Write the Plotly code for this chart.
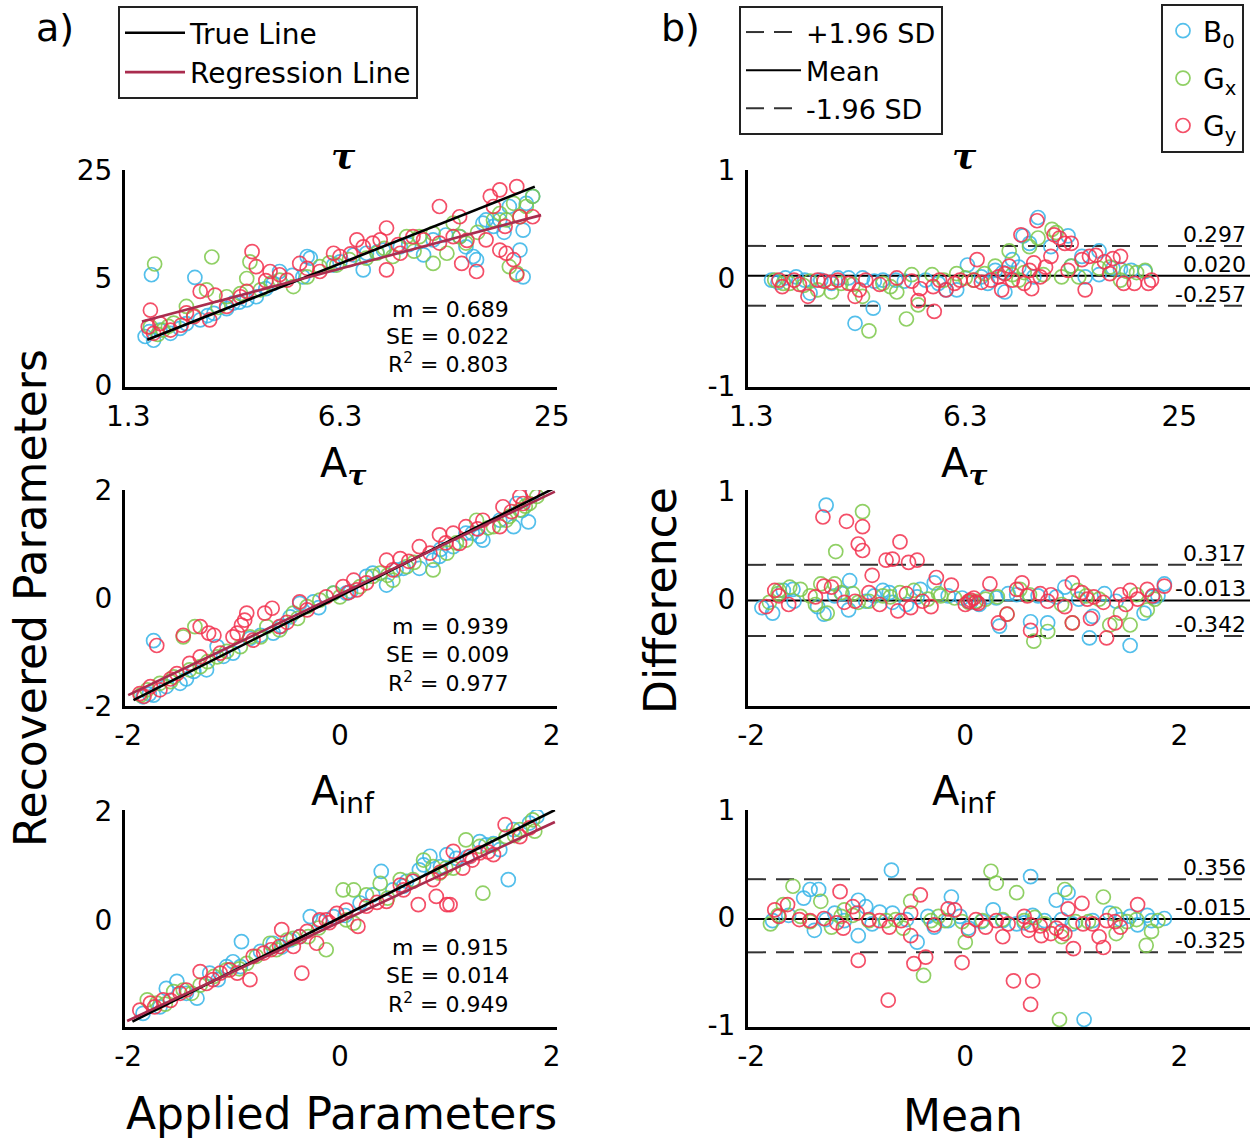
import plotly.graph_objects as go

FONT = "DejaVu Sans"
C_B0 = "#35b4e8"
C_GX = "#7cc84a"
C_GY = "#f2304e"
C_REG = "#a92c4e"

series_names = ["B<sub>0</sub>", "G<sub>x</sub>", "G<sub>y</sub>"]
series_colors = [C_B0, C_GX, C_GY]

# ---------------- tau : recovered vs applied (axis units, ticks relabelled) ----------------
tau_rec_b0_x = [-1.84, -1.76, -1.78, -1.37, -1.60, -1.51, -1.32, -1.19, -1.07, -1.01, -0.88, -0.79, -0.63, -0.57, -0.31, -0.28, -0.35, -0.06, 0.13, 0.22, 0.25, 0.41, 0.57, 0.79, 0.88, 1.13, 1.19, 1.26, 1.29, 1.35, 1.38, 1.45, 1.51, 1.60, 1.70, 1.73, 1.73, 1.76, 1.82, -1.80, -1.70, -1.45, -1.25, -0.95, -0.70, -0.45, 0.00, 0.35, 0.65, 1.00, 1.55]
tau_rec_b0_y = [-1.09, -1.16, 0.06, 0.01, -1.03, -0.94, -0.78, -0.66, -0.57, -0.47, -0.41, -0.35, -0.10, 0.12, 0.40, 0.37, 0.02, 0.24, 0.43, 0.15, 0.46, 0.52, 0.58, 0.43, 0.71, 0.77, 0.58, 0.40, 0.34, 1.02, 1.08, 0.96, 1.08, 1.33, 0.52, 0.02, 0.89, 1.39, 1.52, -1.00, -0.97, -0.85, -0.70, -0.45, -0.20, 0.05, 0.30, 0.48, 0.62, 0.80, 0.85]
tau_rec_gx_x = [-1.75, -1.21, -1.79, -1.67, -1.57, -1.45, -1.26, -1.07, -0.94, -0.88, -0.85, -0.75, -0.57, -0.44, -0.31, -0.19, -0.03, 0.09, 0.25, 0.35, 0.50, 0.63, 0.75, 0.88, 0.88, 1.01, 1.07, 1.13, 1.19, 1.45, 1.51, 1.57, 1.60, 1.64, 1.67, 1.70, 1.82, 1.76, -1.72, -1.62, -1.38, -1.15, -0.65, -0.10, 0.42, 0.70, 1.30]
tau_rec_gx_y = [0.26, 0.39, -0.91, -0.97, -0.84, -0.53, -0.22, -0.35, -0.29, -0.01, 0.30, -0.22, -0.04, -0.16, 0.02, 0.21, 0.24, 0.34, 0.37, 0.46, 0.40, 0.77, 0.77, 0.83, 0.27, 0.46, 1.02, 0.77, 0.65, 1.08, 1.20, 1.08, 0.21, 1.39, 0.09, 1.14, 1.52, 1.33, -1.05, -0.90, -0.70, -0.55, -0.10, 0.28, 0.55, 0.50, 0.85]
tau_rec_gy_x = [-1.79, -1.81, -1.76, -1.60, -1.38, -1.32, -1.23, -1.18, -1.07, -0.94, -0.83, -0.79, -0.66, -0.57, -0.50, -0.38, -0.31, -0.19, -0.06, 0.00, 0.16, 0.22, 0.31, 0.38, 0.44, 0.44, 0.57, 0.69, 0.79, 0.94, 0.94, 1.07, 1.13, 1.15, 1.29, 1.38, 1.42, 1.45, 1.51, 1.51, 1.57, 1.64, 1.67, 1.67, 1.70, 1.82, 1.56, -1.70, -1.50, -1.45, -0.88, -0.70, 0.10, 0.55, 1.20]
tau_rec_gy_y = [-0.60, -0.91, -1.03, -0.97, -0.72, -0.25, -0.78, -0.32, -0.53, -0.35, 0.49, 0.21, 0.12, 0.06, -0.04, 0.27, 0.18, 0.12, 0.46, 0.40, 0.71, 0.58, 0.65, 0.71, 0.15, 0.93, 0.46, 0.77, 0.71, 1.33, 0.65, 0.77, 1.14, 0.27, 0.12, 0.71, 1.52, 1.33, 1.64, 0.52, 0.46, 0.34, 1.70, 0.06, 1.14, 1.14, 0.96, -0.85, -0.88, -0.65, -0.25, -0.05, 0.45, 0.62, 0.70]

# ---------------- tau : Bland-Altman ----------------
tau_diff_b0_x = [-1.81, -1.68, -1.58, -1.45, -1.35, -1.19, -1.09, -0.96, -1.03, -0.86, -0.77, -0.57, -0.37, -0.18, -0.08, 0.02, 0.15, 0.21, 0.28, 0.37, 0.44, 0.54, 0.60, 0.64, 0.68, 0.80, 0.96, 1.09, 1.12, 1.25, 1.25, 1.55, 1.68, 1.38, 0.99, -1.75, -1.50, -1.25, -0.85, -0.65, -0.25, 0.35, 0.50, 1.45]
tau_diff_b0_y = [-0.02, 0.00, 0.01, -0.14, -0.02, 0.00, 0.00, 0.00, -0.42, -0.28, -0.02, -0.03, -0.02, -0.11, -0.11, 0.12, 0.01, -0.05, 0.07, -0.13, 0.17, 0.39, 0.32, 0.01, 0.56, 0.29, 0.39, 0.20, 0.01, 0.25, 0.03, 0.07, 0.06, 0.09, 0.11, -0.04, -0.02, -0.05, -0.03, -0.02, -0.05, 0.05, 0.10, 0.08]
tau_diff_gx_x = [-1.78, -1.64, -1.51, -1.38, -1.25, -1.16, -0.90, -0.96, -0.77, -0.64, -0.55, -0.50, -0.44, -0.31, -0.08, 0.08, 0.18, 0.28, 0.41, 0.44, 0.50, 0.60, 0.68, 0.73, 0.81, 0.85, 0.90, 0.99, 1.06, 1.25, 1.51, 1.68, 1.45, -1.70, -1.45, -1.05, -0.70, -0.20, 0.00, 0.55, 1.35, 1.60]
tau_diff_gx_y = [-0.02, -0.05, -0.07, -0.11, -0.13, -0.05, -0.49, -0.17, -0.05, -0.13, -0.38, 0.03, -0.25, 0.03, 0.04, -0.02, 0.04, 0.11, 0.25, 0.03, -0.02, 0.29, 0.37, 0.03, 0.45, 0.42, 0.01, 0.11, 0.01, 0.09, 0.06, 0.07, -0.02, -0.05, -0.03, -0.06, -0.08, -0.02, 0.00, 0.05, 0.10, 0.05]
tau_diff_gy_x = [-1.74, -1.71, -1.60, -1.47, -1.38, -1.32, -1.19, -1.09, -1.03, -0.99, -0.93, -0.64, -0.50, -0.44, -0.42, -0.29, -0.24, -0.18, -0.05, 0.08, 0.11, 0.24, 0.31, 0.34, 0.37, 0.41, 0.44, 0.52, 0.60, 0.62, 0.64, 0.67, 0.70, 0.80, 0.83, 0.88, 0.93, 0.96, 0.99, 1.12, 1.09, 1.16, 1.22, 1.35, 1.38, 1.45, 1.48, 1.58, 1.71, 1.74, -1.55, -1.25, -0.80, -0.30, -0.10, 0.15, 0.55, 0.75, 1.30]
tau_diff_gy_y = [-0.02, -0.08, -0.02, -0.17, -0.02, -0.03, -0.02, -0.05, -0.17, -0.11, -0.02, 0.00, -0.03, -0.21, -0.10, -0.31, -0.02, -0.11, -0.02, -0.02, 0.17, -0.02, 0.01, -0.11, 0.04, 0.11, -0.02, 0.40, 0.07, -0.10, 0.14, 0.53, 0.01, 0.20, 0.40, 0.37, 0.32, 0.07, 0.32, -0.11, 0.17, 0.20, 0.21, 0.04, 0.18, 0.20, -0.05, -0.05, -0.05, -0.02, -0.06, -0.04, -0.06, -0.08, -0.05, -0.04, -0.05, 0.10, 0.15]

# ---------------- A_tau : recovered vs applied ----------------
atau_rec_b0_x = [-1.86, -1.76, -1.76, -1.64, -1.51, -1.38, -1.26, -1.16, -1.01, -0.85, -0.75, -0.63, -0.47, -0.38, -0.25, -0.06, 0.06, 0.25, 0.31, 0.44, 0.53, 0.75, 0.88, 0.94, 1.07, 1.19, 1.32, 1.35, 1.51, 1.67, 1.78, 1.82, 1.64, -1.80, -1.45, -1.10, -0.55, -0.20, 0.10, 0.60, 0.95, 1.25, 1.72]
atau_rec_b0_y = [-1.83, -1.80, -0.79, -1.64, -1.58, -1.36, -1.33, -0.90, -1.02, -0.75, -0.69, -0.65, -0.35, -0.10, -0.07, 0.09, 0.09, 0.40, 0.46, 0.24, 0.52, 0.55, 0.70, 0.77, 0.95, 1.20, 1.14, 1.07, 1.44, 1.75, 1.41, 1.94, 1.32, -1.78, -1.50, -1.08, -0.52, -0.18, 0.12, 0.55, 0.90, 1.20, 1.62]
atau_rec_gx_x = [-1.82, -1.70, -1.57, -1.48, -1.37, -1.42, -1.32, -1.16, -1.07, -0.94, -0.85, -0.69, -0.57, -0.44, -0.31, -0.19, -0.06, 0.19, 0.31, 0.38, 0.50, 0.63, 0.88, 1.01, 1.19, 1.29, 1.45, 1.57, 1.70, 1.79, 1.86, 1.60, -1.88, -1.60, -1.25, -0.75, -0.40, 0.00, 0.45, 0.70, 1.10, 1.40, 1.75]
atau_rec_gx_y = [-1.70, -1.58, -1.46, -0.72, -0.53, -1.33, -1.27, -1.09, -0.99, -0.90, -0.72, -0.53, -0.59, -0.28, -0.16, -0.04, 0.09, 0.21, 0.40, 0.46, 0.33, 0.58, 0.52, 0.83, 1.07, 1.44, 1.32, 1.44, 1.63, 1.75, 1.88, 1.51, -1.80, -1.55, -1.18, -0.72, -0.38, 0.02, 0.42, 0.66, 1.02, 1.30, 1.70]
atau_rec_gy_x = [-1.89, -1.79, -1.73, -1.70, -1.54, -1.48, -1.42, -1.32, -1.32, -1.24, -1.19, -1.13, -1.01, -0.97, -0.93, -0.90, -0.88, -0.82, -0.71, -0.64, -0.57, -0.38, -0.31, -0.13, 0.03, 0.13, 0.16, 0.44, 0.50, 0.57, 0.75, 0.85, 0.94, 1.07, 1.13, 1.19, 1.35, 1.51, 1.54, 1.70, 1.82, 1.73, -1.85, -1.60, -0.50, 0.08, 0.25, 0.65, 1.00, 1.30, 1.62]
atau_rec_gy_y = [-1.77, -1.64, -0.88, -1.70, -1.40, -0.69, -1.21, -0.53, -1.09, -0.65, -0.69, -1.02, -0.72, -0.65, -0.50, -0.41, -0.28, -0.78, -0.28, -0.19, -0.53, -0.07, -0.22, 0.02, 0.21, 0.33, 0.15, 0.70, 0.52, 0.73, 0.95, 0.83, 1.17, 1.20, 1.01, 1.32, 1.44, 1.32, 1.69, 1.88, 1.98, 1.75, -1.82, -1.50, -0.45, 0.10, 0.28, 0.68, 1.02, 1.28, 1.60]

# ---------------- A_tau : Bland-Altman ----------------
atau_diff_b0_x = [-1.90, -1.80, -1.70, -1.61, -1.38, -1.32, -1.22, -1.08, -1.09, -0.93, -0.77, -0.68, -0.55, -0.42, -0.29, -0.16, -0.03, 0.13, 0.29, 0.32, 0.48, 0.61, 0.77, 0.93, 1.06, 1.16, 1.19, 1.41, 1.54, 1.67, 1.80, 1.86, -1.30, -0.71, 0.68, -1.60, -1.15, -0.85, -0.45, 0.05, 0.20, 0.40, 0.85, 1.30, 1.75]
atau_diff_b0_y = [-0.08, -0.13, 0.08, 0.09, -0.07, -0.14, 0.03, 0.17, -0.10, -0.02, 0.08, -0.03, -0.05, 0.09, 0.15, 0.03, 0.01, -0.05, 0.01, -0.25, 0.04, -0.21, -0.22, 0.11, 0.00, -0.36, -0.16, -0.02, -0.43, -0.13, 0.03, 0.14, 0.87, 0.06, 0.03, -0.02, 0.05, 0.03, 0.02, -0.03, 0.02, 0.05, 0.02, 0.05, 0.02]
atau_diff_gx_x = [-1.83, -1.74, -1.64, -1.54, -1.45, -1.35, -1.29, -1.22, -1.16, -0.96, -1.21, -1.00, -0.90, -0.77, -0.61, -0.48, -0.35, -0.23, -0.10, 0.03, 0.19, 0.39, 0.51, 0.64, 0.77, 0.90, 1.00, 1.13, 1.25, 1.35, 1.45, 1.54, 1.70, 1.77, -1.75, -1.40, -1.05, -0.70, -0.25, 0.10, 0.30, 0.60, 1.05, 1.60]
atau_diff_gx_y = [-0.03, 0.08, 0.11, 0.09, 0.03, 0.14, -0.13, 0.14, 0.06, 0.81, 0.44, -0.03, -0.02, 0.03, 0.06, 0.08, 0.00, 0.03, 0.01, -0.03, 0.00, -0.14, 0.09, -0.39, -0.30, -0.05, -0.22, 0.03, 0.00, -0.24, -0.13, -0.24, -0.10, 0.00, 0.05, -0.05, 0.05, 0.02, 0.05, -0.02, 0.02, 0.04, 0.08, 0.04]
atau_diff_gy_x = [-1.86, -1.78, -1.74, -1.33, -1.11, -0.96, -1.00, -0.96, -0.87, -0.74, -0.68, -0.61, -0.53, -0.45, -1.32, -1.25, -1.13, -1.03, -0.90, -0.80, -0.63, -0.51, -0.32, -0.27, -0.13, 0.03, 0.10, 0.23, 0.31, 0.39, 0.48, 0.53, 0.58, 0.61, 0.77, 0.80, 0.93, 1.00, 1.09, 1.14, 1.17, 1.29, 1.32, 1.40, 1.45, 1.54, 1.61, 1.70, 1.86, 1.00, 0.05, 0.08, 0.12, -1.65, -1.40, -0.55, -0.40, 0.00, 0.70, 1.20, 1.50, 1.75]
atau_diff_gy_y = [-0.07, 0.08, 0.03, 0.76, 0.72, 0.67, 0.51, 0.45, 0.22, 0.36, 0.37, 0.53, 0.34, 0.36, 0.12, 0.11, -0.03, -0.02, 0.06, -0.05, -0.11, -0.08, -0.07, 0.20, 0.13, -0.02, -0.03, 0.14, -0.22, -0.14, 0.09, 0.15, 0.03, -0.29, -0.02, 0.04, -0.07, 0.15, 0.06, 0.00, -0.18, -0.03, -0.36, -0.22, 0.04, 0.08, 0.00, 0.09, 0.12, -0.22, -0.01, 0.01, -0.04, -0.05, 0.02, 0.05, -0.02, -0.05, 0.05, 0.02, -0.05, 0.03]

# ---------------- A_inf : recovered vs applied ----------------
ainf_rec_b0_x = [-1.86, -1.64, -1.54, -1.35, -1.23, -1.07, -1.01, -0.94, -0.93, -0.75, -0.63, -0.47, -0.38, -0.28, -0.19, -0.06, 0.19, 0.31, 0.39, 0.50, 0.63, 0.75, 0.79, 0.85, 1.01, 1.10, 1.32, 1.38, 1.51, 1.59, 1.64, 1.79, 1.86, -1.70, -1.45, -1.15, -0.55, 0.05, 0.60, 0.95, 1.20, 1.45]
ainf_rec_b0_y = [-1.72, -1.26, -1.13, -1.44, -0.98, -0.86, -0.77, -0.86, -0.40, -0.58, -0.43, -0.37, -0.31, 0.06, -0.03, 0.06, 0.31, 0.46, 0.89, 0.55, 0.71, 0.92, 1.01, 1.17, 1.20, 1.13, 1.44, 1.38, 1.29, 0.74, 1.66, 1.78, 1.90, -1.60, -1.35, -1.10, -0.50, 0.08, 0.62, 0.98, 1.15, 1.40]
ainf_rec_gx_x = [-1.82, -1.73, -1.57, -1.48, -1.32, -1.19, -1.07, -0.88, -0.79, -0.66, -0.50, -0.44, -0.30, -0.13, 0.06, 0.13, 0.03, 0.13, 0.25, 0.38, 0.57, 0.69, 0.79, 0.88, 0.94, 1.07, 1.19, 1.32, 1.35, 1.57, 1.70, 1.82, 1.84, -1.65, -1.40, -0.95, -0.60, -0.20, 0.45, 1.00, 1.45, 1.65]
ainf_rec_gx_y = [-1.47, -1.53, -1.32, -1.29, -1.20, -1.04, -0.92, -0.80, -0.67, -0.43, -0.37, -0.34, -0.31, -0.55, 0.00, -0.06, 0.55, 0.55, 0.46, 0.67, 0.74, 0.74, 1.10, 0.98, 0.86, 0.95, 1.47, 1.35, 0.49, 1.53, 1.66, 1.84, 1.63, -1.55, -1.35, -0.90, -0.55, -0.15, 0.40, 0.95, 1.38, 1.55]
ainf_rec_gy_x = [-1.89, -1.79, -1.67, -1.51, -1.45, -1.32, -1.26, -1.13, -1.04, -0.97, -0.85, -0.82, -0.72, -0.57, -0.55, -0.44, -0.38, -0.36, -0.31, -0.22, -0.19, -0.13, -0.03, 0.06, 0.17, 0.25, 0.44, 0.57, 0.69, 0.74, 0.88, 0.91, 1.01, 1.04, 1.07, 1.16, 1.23, 1.32, 1.45, 1.56, 1.70, 1.79, -1.75, -1.60, -1.20, -0.65, -0.10, 0.35, 0.60, 0.95, 1.25, 1.40]
ainf_rec_gy_y = [-1.66, -1.53, -1.47, -1.35, -1.29, -0.95, -1.17, -0.98, -0.92, -0.98, -1.10, -0.67, -0.61, -0.49, -0.18, -0.49, -0.31, -0.98, -0.21, -0.43, 0.00, 0.00, 0.12, 0.18, -0.12, 0.25, 0.34, 0.64, 0.71, 0.28, 0.74, 0.43, 0.28, 0.28, 1.26, 0.95, 1.17, 1.23, 1.20, 1.75, 1.53, 1.69, -1.60, -1.48, -1.10, -0.55, -0.05, 0.32, 0.55, 0.88, 1.10, 1.25]

# ---------------- A_inf : Bland-Altman ----------------
ainf_diff_b0_x = [-1.80, -1.51, -1.45, -1.37, -1.41, -1.22, -1.13, -1.00, -1.00, -0.93, -0.87, -0.69, -0.68, -0.45, -0.35, -0.29, -0.16, -0.13, 0.03, 0.26, 0.35, 0.48, 0.61, 0.63, 0.74, 0.85, 0.96, 1.00, 1.19, 1.35, 1.54, 1.61, 1.86, 1.11, 1.74, -1.65, -1.30, -0.80, -0.55, -0.05, 0.15, 0.55, 0.90, 1.45, 1.70]
ainf_diff_b0_y = [-0.03, 0.18, 0.26, 0.26, -0.12, 0.04, -0.03, 0.16, -0.17, 0.10, -0.06, 0.44, 0.04, -0.23, 0.01, -0.09, -0.03, 0.19, -0.10, 0.07, -0.03, -0.06, 0.38, 0.02, -0.03, 0.16, 0.23, -0.06, -0.03, 0.04, 0.01, -0.07, -0.01, -0.95, -0.03, 0.02, -0.02, 0.05, -0.02, 0.01, -0.04, -0.05, -0.02, -0.02, 0.02]
ainf_diff_gx_x = [-1.82, -1.70, -1.61, -1.54, -1.35, -1.25, -1.16, -1.13, -0.90, -0.74, -0.51, -0.58, -0.39, -0.32, -0.19, -0.03, 0.00, 0.16, 0.24, 0.29, 0.48, 0.55, 0.74, 0.88, 0.90, 0.93, 1.03, 1.29, 1.41, 1.51, 1.69, 1.74, 1.80, -1.75, -1.45, -1.05, -0.65, -0.25, 0.35, 0.65, 1.15, 1.40, 1.60]
ainf_diff_gx_y = [-0.06, 0.12, 0.29, 0.01, 0.15, -0.09, 0.01, 0.07, -0.03, -0.03, 0.15, -0.10, -0.54, -0.03, -0.03, -0.04, -0.23, -0.03, 0.43, 0.32, 0.23, -0.03, -0.06, -0.95, -0.18, 0.26, -0.04, 0.19, -0.15, -0.04, -0.26, -0.13, -0.03, 0.02, -0.04, 0.02, -0.02, 0.01, -0.02, 0.00, -0.04, 0.03, -0.02]
ainf_diff_gy_x = [-1.78, -1.74, -1.66, -1.45, -1.32, -1.17, -1.14, -1.05, -1.01, -1.00, -0.80, -0.72, -0.71, -0.51, -0.51, -0.48, -0.42, -0.37, -0.29, -0.16, -0.10, -0.03, 0.03, 0.19, 0.29, 0.35, 0.45, 0.55, 0.59, 0.61, 0.63, 0.71, 0.80, 0.90, 0.96, 1.01, 1.09, 1.19, 1.25, 1.29, 1.45, 1.61, 1.32, 0.93, 0.61, -1.55, -1.20, -0.90, -0.60, 0.10, 0.40, 0.70, 0.85, 1.10, 1.40]
ainf_diff_gy_y = [0.07, 0.01, 0.12, -0.03, -0.01, 0.24, -0.10, 0.10, 0.04, -0.40, -0.03, -0.77, -0.09, 0.04, -0.17, -0.43, 0.21, -0.37, -0.07, 0.08, 0.07, -0.42, -0.12, -0.09, -0.03, -0.18, -0.59, 0.01, -0.12, -0.81, -0.59, -0.17, -0.15, -0.13, 0.08, -0.29, 0.13, -0.06, -0.18, -0.28, -0.09, 0.12, -0.03, -0.15, -0.07, -0.02, -0.05, -0.02, -0.03, -0.02, -0.06, -0.08, -0.10, -0.06, -0.04]

# ---------------- lines and statistics ----------------
true_line_x = [[-1.82, 1.84], [-1.95, 2.01], [-1.96, 2.03]]
true_line_y = [[-1.15, 1.70], [-1.89, 2.02], [-1.87, 2.02]]
reg_line_x = [[-1.87, 1.90], [-2.00, 2.03], [-2.01, 2.03]]
reg_line_y = [[-0.81, 1.17], [-1.80, 1.97], [-1.86, 1.80]]
stat_m = ["0.689", "0.939", "0.915"]
stat_se = ["0.022", "0.009", "0.014"]
stat_r2 = ["0.803", "0.977", "0.949"]
loa_upper = [0.297, 0.317, 0.356]
loa_mean = [0.020, -0.013, -0.015]
loa_lower = [-0.257, -0.342, -0.325]
loa_upper_txt = ["0.297", "0.317", "0.356"]
loa_mean_txt = ["0.020", "-0.013", "-0.015"]
loa_lower_txt = ["-0.257", "-0.342", "-0.325"]

tick_vals_lr = [-2, 0, 2]
x_ticktext = [["1.3", "6.3", "25"], ["-2", "0", "2"], ["-2", "0", "2"]]
y_ticktext_left = [["0", "5", "25"], ["-2", "0", "2"], ["-2", "0", "2"]]
y_tickvals_right = [-1, 0, 1]
y_ticktext_right = ["-1", "0", "1"]

TAU = "<span style='font-family:DejaVu Serif'><b><i>τ</i></b></span>"
row_titles = [TAU, "A<sub>" + TAU + "</sub>", "A<sub>inf</sub>"]

rec_data = [
    [(tau_rec_b0_x, tau_rec_b0_y), (tau_rec_gx_x, tau_rec_gx_y), (tau_rec_gy_x, tau_rec_gy_y)],
    [(atau_rec_b0_x, atau_rec_b0_y), (atau_rec_gx_x, atau_rec_gx_y), (atau_rec_gy_x, atau_rec_gy_y)],
    [(ainf_rec_b0_x, ainf_rec_b0_y), (ainf_rec_gx_x, ainf_rec_gx_y), (ainf_rec_gy_x, ainf_rec_gy_y)],
]
diff_data = [
    [(tau_diff_b0_x, tau_diff_b0_y), (tau_diff_gx_x, tau_diff_gx_y), (tau_diff_gy_x, tau_diff_gy_y)],
    [(atau_diff_b0_x, atau_diff_b0_y), (atau_diff_gx_x, atau_diff_gx_y), (atau_diff_gy_x, atau_diff_gy_y)],
    [(ainf_diff_b0_x, ainf_diff_b0_y), (ainf_diff_gx_x, ainf_diff_gx_y), (ainf_diff_gy_x, ainf_diff_gy_y)],
]

# ---------------- layout geometry (pixels of the 1259 x 1140 page) ----------------
W, H = 1259, 1140
left_px = (125, 557)
right_px = (748, 1250)
rows_px = [(170, 387), (490, 706), (810, 1027)]
left_xrange = [-2.03, 2.05]
right_xrange = [-2.03, 2.66]
left_yranges = [[-2.03, 2.01], [-2.0, 2.0], [-1.97, 2.02]]
right_yranges = [[-1.01, 1.0], [-0.99, 1.01], [-1.02, 1.0]]


def px_x(p):
    return p / W


def px_y(p):
    return 1 - p / H


fig = go.Figure()
layout = dict(
    width=W, height=H, autosize=False,
    margin=dict(l=0, r=0, t=0, b=0, pad=0, autoexpand=False),
    paper_bgcolor="white", plot_bgcolor="white",
    font=dict(family=FONT, color="black"),
    annotations=[],
)

axis_common = dict(showline=True, linewidth=3, linecolor="black", showgrid=False, automargin=False,
                   zeroline=False, ticks="", tickfont=dict(family=FONT, size=28, color="black"))

for r in range(3):
    ydom = [px_y(rows_px[r][1]), px_y(rows_px[r][0])]
    for c in range(2):
        idx = r * 2 + c + 1
        sx = "" if idx == 1 else str(idx)
        xa, ya = "x" + sx, "y" + sx
        if c == 0:
            xdom = [px_x(left_px[0]), px_x(left_px[1])]
            layout["xaxis" + sx] = dict(axis_common, domain=xdom, range=left_xrange, anchor=ya,
                                        tickvals=tick_vals_lr, ticktext=x_ticktext[r], ticklabelstandoff=2)
            layout["yaxis" + sx] = dict(axis_common, domain=ydom, range=left_yranges[r], anchor=xa,
                                        tickvals=tick_vals_lr, ticktext=y_ticktext_left[r], ticklabelstandoff=4)
            for k in range(3):
                xs, ys = rec_data[r][k]
                fig.add_trace(go.Scatter(
                    x=xs, y=ys, mode="markers", xaxis=xa, yaxis=ya,
                    name=series_names[k], legend="legend3", showlegend=(r == 0),
                    legendrank=10 + k, legendgroup="s%d" % k,
                    marker=dict(symbol="circle-open", size=14, color=series_colors[k],
                                line=dict(width=1.7, color=series_colors[k]), opacity=0.85)))
            fig.add_trace(go.Scatter(
                x=true_line_x[r], y=true_line_y[r], mode="lines", xaxis=xa, yaxis=ya,
                name="True Line", legend="legend", showlegend=(r == 0), legendgroup="t",
                line=dict(color="black", width=2.6)))
            fig.add_trace(go.Scatter(
                x=reg_line_x[r], y=reg_line_y[r], mode="lines", xaxis=xa, yaxis=ya,
                name="Regression Line", legend="legend", showlegend=(r == 0), legendgroup="r",
                line=dict(color=C_REG, width=2.6)))
            ys_txt = [(310, 337, 363), (626, 654, 682), (947, 975, 1003)][r]
            for txt, yy in zip(["m = " + stat_m[r], "SE = " + stat_se[r], "R<sup>2</sup> = " + stat_r2[r]], ys_txt):
                layout["annotations"].append(dict(
                    x=px_x(511), y=px_y(yy), xref="paper", yref="paper", xanchor="right", yanchor="middle",
                    text=txt, showarrow=False, font=dict(family=FONT, size=22, color="black")))
            layout["annotations"].append(dict(
                x=px_x(343), y=px_y([155, 466, 794][r]), xref="paper", yref="paper",
                xanchor="center", yanchor="middle", text=row_titles[r], showarrow=False,
                font=dict(family=FONT, size=[36, 40, 40][r], color="black")))
        else:
            xdom = [px_x(right_px[0]), px_x(right_px[1])]
            layout["xaxis" + sx] = dict(axis_common, domain=xdom, range=right_xrange, anchor=ya,
                                        tickvals=tick_vals_lr, ticktext=x_ticktext[r], ticklabelstandoff=2)
            layout["yaxis" + sx] = dict(axis_common, domain=ydom, range=right_yranges[r], anchor=xa,
                                        tickvals=y_tickvals_right, ticktext=y_ticktext_right, ticklabelstandoff=4)
            for val, nm, dash, col, rank in [(loa_upper[r], "+1.96 SD", "18px,10px", "#333333", 1),
                                              (loa_mean[r], "Mean", "solid", "black", 2),
                                              (loa_lower[r], "-1.96 SD", "18px,10px", "#333333", 3)]:
                fig.add_trace(go.Scatter(
                    x=right_xrange, y=[val, val], mode="lines", xaxis=xa, yaxis=ya,
                    name=nm, legend="legend2", showlegend=(r == 0), legendrank=rank, legendgroup=nm,
                    line=dict(color=col, width=2, dash=dash)))
            for k in range(3):
                xs, ys = diff_data[r][k]
                fig.add_trace(go.Scatter(
                    x=xs, y=ys, mode="markers", xaxis=xa, yaxis=ya, showlegend=False,
                    marker=dict(symbol="circle-open", size=14, color=series_colors[k],
                                line=dict(width=1.7, color=series_colors[k]), opacity=0.85)))
            for val, txt in [(loa_upper[r], loa_upper_txt[r]), (loa_mean[r], loa_mean_txt[r]),
                             (loa_lower[r], loa_lower_txt[r])]:
                layout["annotations"].append(dict(
                    x=px_x(1248), y=val, xref="paper", yref=ya, xanchor="right", yanchor="bottom",
                    yshift=-3, text=txt, showarrow=False, font=dict(family=FONT, size=22, color="black")))
            layout["annotations"].append(dict(
                x=px_x(964), y=px_y([155, 466, 794][r]), xref="paper", yref="paper",
                xanchor="center", yanchor="middle", text=row_titles[r], showarrow=False,
                font=dict(family=FONT, size=[36, 40, 40][r], color="black")))

for txt, x, y, ang in [("Recovered Parameters", 30, 598, -90), ("Difference", 660, 600, -90),
                       ("Applied Parameters", 341, 1113, 0), ("Mean", 963, 1115, 0)]:
    layout["annotations"].append(dict(x=px_x(x), y=px_y(y), xref="paper", yref="paper",
                                      xanchor="center", yanchor="middle", textangle=ang,
                                      text=txt, showarrow=False, font=dict(family=FONT, size=44, color="black")))
for txt, x in [("a)", 55), ("b)", 680)]:
    layout["annotations"].append(dict(x=px_x(x), y=px_y(28), xref="paper", yref="paper",
                                      xanchor="center", yanchor="middle", text=txt, showarrow=False,
                                      font=dict(family=FONT, size=38, color="black")))

legend_common = dict(xanchor="left", yanchor="top", bgcolor="white", bordercolor="#222222",
                     borderwidth=2, font=dict(family=FONT, size=28, color="black"),
                     orientation="v", tracegroupgap=0)
layout["legend"] = dict(legend_common, x=px_x(118), y=px_y(6), itemwidth=60)
layout["legend2"] = dict(legend_common, x=px_x(739), y=px_y(6), itemwidth=55,
                         font=dict(family=FONT, size=27, color="black"))
layout["legend3"] = dict(legend_common, x=px_x(1161), y=px_y(4), itemwidth=30, tracegroupgap=8)

fig.update_layout(**layout)
fig.write_html("out.html", config={"displayModeBar": False},
               post_script="document.body.style.margin='0px';document.body.style.padding='0px';")
